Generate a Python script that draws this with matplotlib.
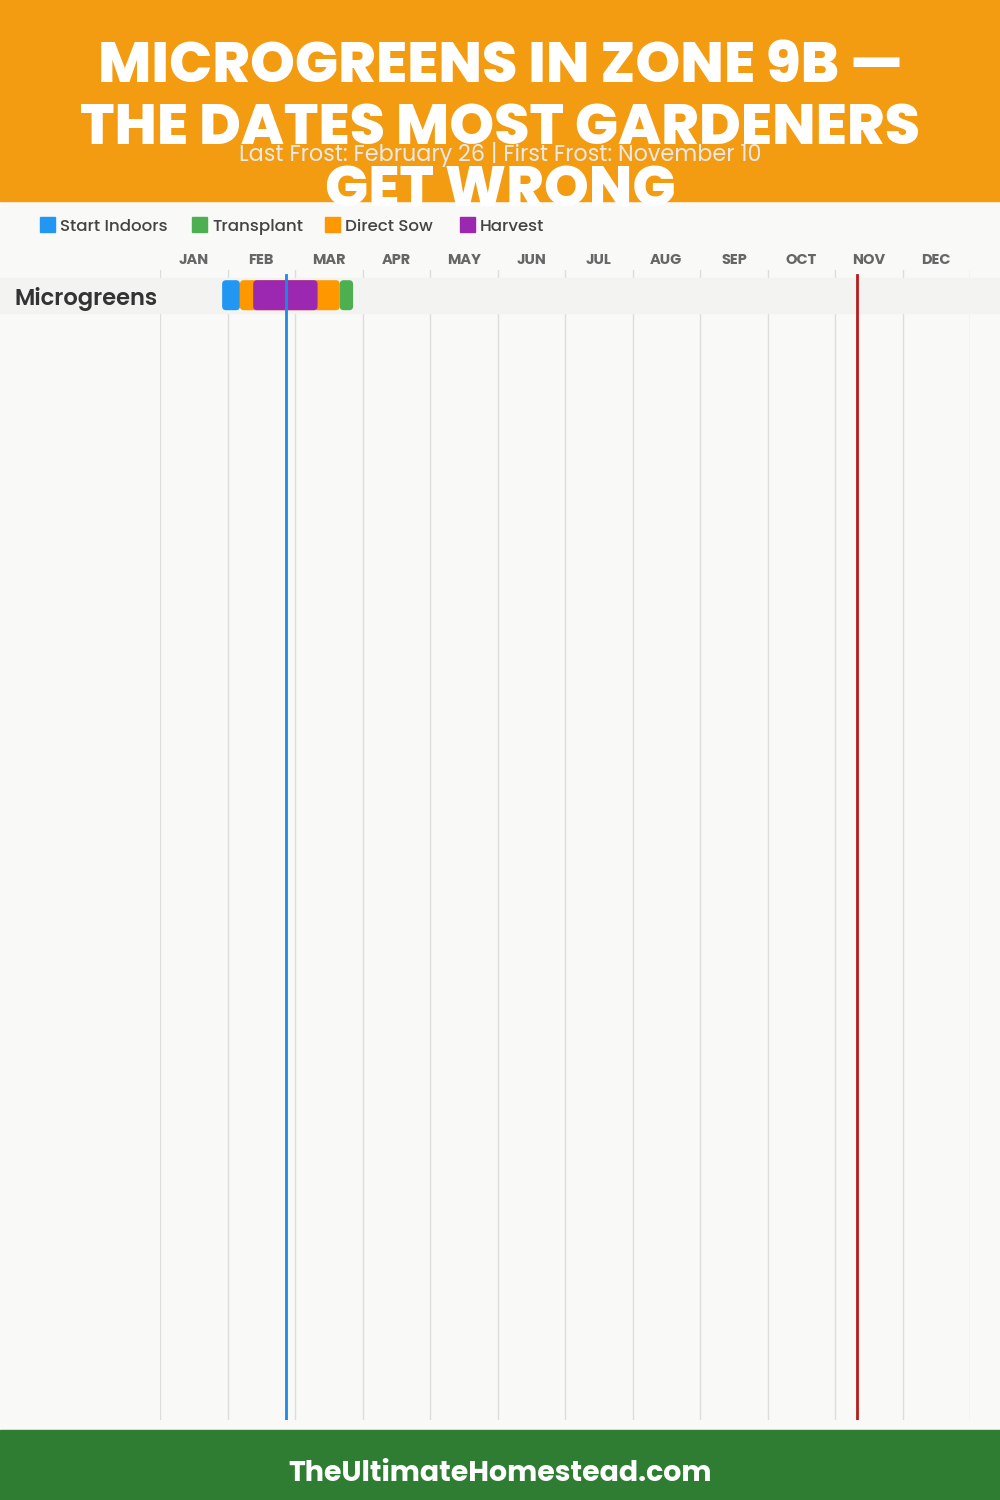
"""Planting calendar chart: microgreens in zone 9b."""

import matplotlib

matplotlib.use("Agg")

import matplotlib.pyplot as plt
from matplotlib.patches import FancyBboxPatch, Rectangle
from matplotlib.transforms import blended_transform_factory

# --- data -------------------------------------------------------------------
title_lines = ["MICROGREENS IN ZONE 9B —", "THE DATES MOST GARDENERS", "GET WRONG"]
subtitle = "Last Frost: February 26 | First Frost: November 10"
footer = "TheUltimateHomestead.com"

months = ["JAN", "FEB", "MAR", "APR", "MAY", "JUN",
          "JUL", "AUG", "SEP", "OCT", "NOV", "DEC"]
crops = ["Microgreens"]

stage_names = ["Start Indoors", "Transplant", "Direct Sow", "Harvest"]
stage_colors = ["#2196F3", "#4CAF50", "#FF9800", "#9C27B0"]
# segments in drawing order: crop index, stage, start / end day-of-year
seg_crop = [0, 0, 0, 0]
seg_stage = ["Start Indoors", "Direct Sow", "Harvest", "Transplant"]
seg_start = [28, 36, 42, 81]
seg_end = [36, 81, 71, 87]

last_frost_day = 57    # Feb 26
first_frost_day = 314  # Nov 10

FONT = ["Poppins", "DejaVu Sans"]

# --- figure -----------------------------------------------------------------
fig = plt.figure(figsize=(10, 15), dpi=100)
fig.patch.set_facecolor("#F9F9F7")

# background axes in pixel units for the header, legend and footer
bg = fig.add_axes([0, 0, 1, 1])
bg.set_xlim(0, 1000)
bg.set_ylim(1500, 0)
bg.axis("off")
bg.add_patch(Rectangle((0, 0), 1000, 201, color="#F39C12", zorder=0))
bg.add_patch(Rectangle((0, 1430), 1000, 70, color="#2E7D32", zorder=0))

for i, line in enumerate(title_lines):
    bg.text(500, 82 + i * 62, line, ha="center", va="baseline", color="white",
            fontsize=41, fontweight=800, family=FONT, zorder=3)
bg.text(500, 161, subtitle, ha="center", va="baseline", color="#E9E9E9",
        fontsize=16, family=FONT, zorder=4)
bg.text(500, 1481, footer, ha="center", va="baseline", color="white",
        fontsize=20.5, fontweight="bold", family=FONT)

# legend
legend_x = [40, 192, 325, 460]
for name, color, lx in zip(stage_names, stage_colors, legend_x):
    bg.add_patch(Rectangle((lx, 217), 15, 15, color=color))
    bg.text(lx + 20, 231, name, ha="left", va="baseline", color="#444444",
            fontsize=12, fontweight=500, family=FONT)

# calendar axes: x is day of year, y is row index
row_px = 35
ax = fig.add_axes([160 / 1000, 80 / 1500, 810 / 1000, 1150 / 1500])
ax.set_facecolor("none")
top = -25.2 / row_px
ax.set_xlim(0, 365)
ax.set_ylim(top + 1150 / row_px, top)
ax.axis("off")

month_len = 365 / 12
for i in range(13):
    ax.axvline(i * month_len, color="#DDDDDD", lw=1, zorder=0)
for i, m in enumerate(months):
    ax.text((i + 0.5) * month_len, top - 6 / row_px, m, ha="center",
            va="baseline", color="#666666", fontsize=10.5, fontweight="bold",
            family=FONT)

band_tr = blended_transform_factory(fig.transFigure, ax.transData)
for r, crop in enumerate(crops):
    ax.add_patch(Rectangle((0, r - 0.5), 1, 1, transform=band_tr,
                           color="#F3F3F1", clip_on=False, zorder=1))
    ax.text(15 / 1000, r + 10 / row_px, crop, transform=band_tr, ha="left",
            va="baseline", color="#333333", fontsize=16.3, fontweight=600,
            family=FONT)

color_of = dict(zip(stage_names, stage_colors))
px_per_day = 810 / 365
bar_h = 30 / row_px
for c, stage, s, e in zip(seg_crop, seg_stage, seg_start, seg_end):
    ax.add_patch(FancyBboxPatch(
        (s, c - bar_h / 2), e - s, bar_h,
        boxstyle="round,pad=0,rounding_size=%f" % (4 / px_per_day),
        mutation_aspect=px_per_day / row_px,
        facecolor=color_of[stage], edgecolor="none", zorder=2))

frost_top = 1 - 5 / 1150
ax.axvline(last_frost_day, ymax=frost_top, color="#1E88E5", lw=2, zorder=3)
ax.axvline(first_frost_day, ymax=frost_top, color="#B71C1C", lw=2, zorder=3)

fig.savefig("out.png", dpi=100, facecolor=fig.get_facecolor())
